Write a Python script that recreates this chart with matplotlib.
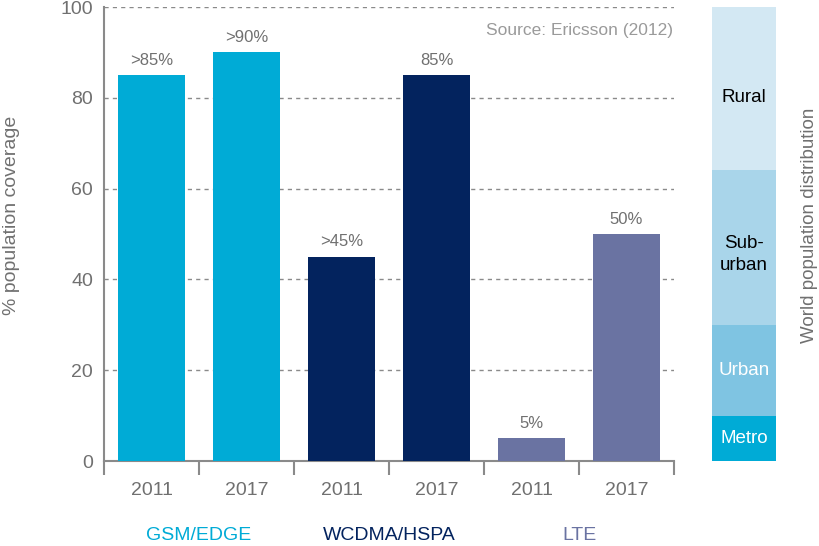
#!/usr/bin/env python3
"""Mobile network population coverage by technology, 2011 vs 2017,
with the world population distribution as a stacked side bar."""

import matplotlib

matplotlib.use("Agg")
import matplotlib.pyplot as plt
import numpy as np

plt.rcParams["font.family"] = ["Liberation Sans", "DejaVu Sans"]

# data
technologies = ["GSM/EDGE", "WCDMA/HSPA", "LTE"]
years = ["2011", "2017", "2011", "2017", "2011", "2017"]
coverage = [85, 90, 45, 85, 5, 50]
value_labels = [">85%", ">90%", ">45%", "85%", "5%", "50%"]

segments = ["Metro", "Urban", "Sub-\nurban", "Rural"]
segment_share = [10, 20, 34, 36]

GREY = "#707070"
tech_colors = ["#00abd6", "#03235e", "#6a73a2"]
seg_colors = ["#00abd6", "#7fc4e2", "#a9d5ea", "#d3e8f3"]
seg_text = ["white", "white", "black", "black"]
seg_label_shift = [0, 0, -1.5, -2]  # labels sit a touch below centre in the upper blocks

fig = plt.figure(figsize=(8.19, 5.46), dpi=100)
ax = fig.add_axes([104 / 819, 1 - 461 / 546, 570 / 819, 454 / 546])

x = np.arange(len(coverage)) + 0.5
bar_colors = [tech_colors[i // 2] for i in range(len(coverage))]
ax.bar(x, coverage, width=0.7, color=bar_colors, zorder=3)
for xi, v, lab in zip(x, coverage, value_labels):
    ax.text(xi, v + 1.6, lab, ha="center", va="bottom", fontsize=12, color=GREY)

ax.set_xlim(0, len(coverage))
ax.set_ylim(0, 100)
ax.set_yticks(range(0, 101, 20))
ax.yaxis.grid(True, linestyle=(0, (3, 3)), color="#8a8a8a", lw=1)
ax.tick_params(axis="y", length=0, labelsize=14, labelcolor=GREY, pad=8)

ax.set_xticks(np.arange(len(coverage) + 1))
ax.set_xticklabels([])
ax.set_xticks(x, minor=True)
ax.set_xticklabels(years, minor=True)
ax.tick_params(axis="x", which="major", length=10, width=1.5, color="#8a8a8a")
ax.tick_params(axis="x", which="minor", length=0, pad=15, labelsize=14,
               labelcolor=GREY)

for s in ["top", "right"]:
    ax.spines[s].set_visible(False)
for s in ["left", "bottom"]:
    ax.spines[s].set_color("#8a8a8a")
    ax.spines[s].set_linewidth(1.5)

for i, (name, col) in enumerate(zip(technologies, tech_colors)):
    ax.text(2 * i + 1, -16.5, name, ha="center", va="center", fontsize=14,
            color=col)

ax.text(0.998, 0.948, "Source: Ericsson (2012)", transform=ax.transAxes,
        ha="right", va="center", fontsize=12.5, color="#9a9a9a")

fig.text(12 / 819, 1 - 215 / 546, "% population coverage", rotation=90,
         ha="center", va="center", fontsize=14, color=GREY)

# stacked world population bar
ax2 = fig.add_axes([712 / 819, 1 - 461 / 546, 64 / 819, 454 / 546])
bottom = 0
for name, share, col, tc, dy in zip(segments, segment_share, seg_colors,
                                    seg_text, seg_label_shift):
    ax2.bar(0, share, bottom=bottom, width=1, color=col)
    ax2.text(0, bottom + share / 2 + dy, name, ha="center", va="center",
             fontsize=13.5, color=tc, linespacing=1.45)
    bottom += share
ax2.set_xlim(-0.5, 0.5)
ax2.set_ylim(0, 100)
ax2.axis("off")

fig.text(810 / 819, 1 - 225 / 546, "World population distribution", rotation=90,
         ha="center", va="center", fontsize=13.5, color=GREY)

fig.savefig("out.png", dpi=100)
